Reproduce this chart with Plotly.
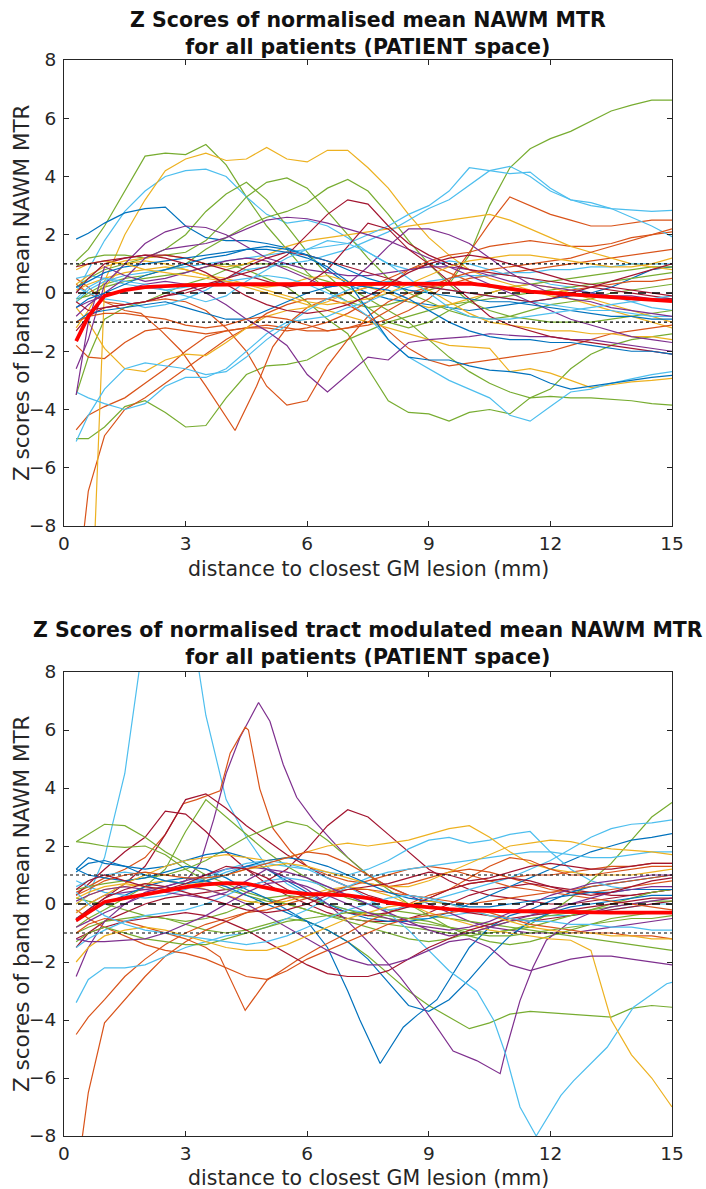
import plotly.graph_objects as go

# ---------------- data ----------------
G = [0.3, 0.6, 1.0, 1.5, 2.0, 2.5, 3.0, 3.5, 4.0, 4.5, 5.0, 5.5, 6.0, 6.5, 7.0, 7.5,
     8.0, 8.5, 9.0, 9.5, 10.0, 10.5, 11.0, 11.5, 12.0, 12.5, 13.0, 13.5, 14.0, 14.5, 15.0]

X_TICKS = [0, 3, 6, 9, 12, 15]
Y_TICKS = [-8, -6, -4, -2, 0, 2, 4, 6, 8]
REF_DOTTED = [-1, 1]
REF_DASHED = [0]

TITLE_TOP = "Z Scores of normalised mean NAWM MTR<br>for all patients (PATIENT space)"
TITLE_BOT = "Z Scores of normalised tract modulated mean NAWM MTR<br>for all patients (PATIENT space)"
X_LABEL = "distance to closest GM lesion (mm)"
Y_LABEL = "Z scores of band mean NAWM MTR"

COLORS = {"b": "#0072BD", "o": "#D95319", "y": "#EDB120", "p": "#7E2F8E",
          "g": "#77AC30", "c": "#4DBEEE", "r": "#A2142F"}

TOP_LINES = [
    ("g", G, [1.1, 1.5, 2.3, 3.5, 4.7, 4.8, 4.75, 5.1, 4.4, 3.3, 2.3, 1.5, 0.7, 0.1, -0.3, -0.5, -0.4, -0.2, 0.1, 0.3, 1.3, 3.0, 4.3, 4.95, 5.3, 5.55, 5.9, 6.25, 6.45, 6.62, 6.62]),
    ("c", G, [0.0, 0.8, 1.8, 2.8, 3.5, 4.0, 4.2, 4.25, 4.0, 3.3, 2.7, 2.4, 2.5, 2.3, 1.9, 1.4, 1.0, 0.8, 0.9, 1.1, 1.0, 0.8, 0.6, 0.5, 0.3, 0.2, 0.0, -0.1, -0.3, -0.5, -0.6]),
    ("y", G, [-1.2, -0.6, 0.4, 2.0, 3.2, 4.2, 4.6, 4.8, 4.55, 4.6, 5.0, 4.6, 4.5, 4.9, 4.9, 4.3, 3.6, 2.7, 1.9, 1.3, 0.8, 0.5, 0.3, 0.1, -0.1, -0.2, -0.4, -0.6, -0.8, -1.0, -1.2]),
    ("b", G, [1.85, 2.05, 2.4, 2.75, 2.9, 2.95, 2.3, 1.9, 1.8, 1.8, 1.7, 1.55, 1.3, 0.8, 0.3, 0.0, -0.2, -0.3, -0.4, -0.5, -0.6, -0.5, -0.4, -0.3, -0.2, -0.1, 0.0, 0.2, 0.5, 0.8, 0.9]),
    ("g", G, [0.2, 0.5, 0.8, 1.0, 1.2, 1.5, 2.0, 2.8, 3.4, 3.8, 3.2, 2.3, 1.4, 0.6, 0.0, -0.5, -1.0, -1.2, -1.0, -0.6, -0.3, 0.0, 0.2, 0.3, 0.4, 0.5, 0.6, 0.7, 0.8, 0.9, 0.9]),
    ("g", G, [0.9, 1.2, 1.3, 1.3, 1.2, 1.3, 1.4, 1.8, 2.5, 3.3, 3.8, 3.95, 3.6, 2.8, 2.0, 1.2, 0.5, 0.0, -0.3, -0.6, -0.8, -0.9, -0.8, -0.6, -0.4, -0.3, -0.2, 0.0, 0.1, 0.2, 0.3]),
    ("g", G, [-0.3, 0.0, 0.3, 0.5, 0.6, 0.8, 1.0, 1.5, 1.9, 2.3, 2.6, 2.8, 3.1, 3.6, 3.9, 3.5, 2.7, 1.8, 1.0, 0.3, -0.3, -0.6, -0.8, -0.9, -1.0, -1.0, -1.0, -0.9, -0.8, -0.7, -0.6]),
    ("g", G, [-0.2, -0.1, 0.2, 0.4, 0.5, 0.6, 0.7, 0.9, 1.0, 0.8, 0.5, 0.2, -0.3, -0.9, -1.4, -2.6, -3.7, -4.1, -4.15, -4.4, -4.1, -4.0, -4.15, -3.6, -3.55, -3.6, -3.6, -3.65, -3.7, -3.8, -3.85]),
    ("g", G, [-5.0, -5.0, -4.6, -3.9, -3.7, -4.1, -4.6, -4.55, -3.6, -2.8, -2.5, -2.45, -2.3, -1.9, -1.6, -1.3, -1.0, -0.8, -0.6, -0.4, -0.3, -0.2, -0.1, 0.0, 0.1, 0.2, 0.3, 0.4, 0.5, 0.6, 0.7]),
    ("g", G, [-3.5, -2.2, -0.9, -0.5, -0.3, 0.0, 0.3, 0.5, 0.8, 1.0, 1.0, 0.9, 0.6, 0.4, 0.2, -0.2, -0.6, -1.0, -1.6, -2.2, -2.7, -3.1, -3.4, -3.6, -3.3, -2.6, -2.1, -1.8, -1.6, -1.5, -1.4]),
    ("o", [0.3, 0.6, 1.0, 1.5, 1.9, 2.4, 2.9, 3.5, 4.22, 4.75, 5.15, 5.65, 6.0, 6.5, 7.0, 7.5, 8.0, 8.5, 9.0, 9.5, 10.0, 10.5, 11.0, 11.5, 12.0, 12.5, 13.0, 13.5, 14.0, 14.5, 15.0],
          [0.5, 0.2, -0.3, -0.6, -0.7, -1.3, -2.0, -3.2, -4.72, -3.2, -1.85, -0.9, -0.5, -0.2, 0.0, 0.2, 0.5, 0.8, 1.1, 1.3, 1.4, 1.6, 1.7, 1.8, 1.7, 1.6, 1.6, 1.7, 1.9, 2.0, 2.1]),
    ("o", G, [0.3, 0.0, -0.3, -0.4, -0.3, -0.2, -0.3, -0.6, -1.2, -2.0, -3.2, -3.85, -3.7, -2.5, -1.6, -0.8, -0.3, 0.0, 0.2, 0.3, 0.5, 0.6, 0.7, 0.8, 0.9, 1.0, 1.1, 1.2, 1.3, 1.4, 1.5]),
    ("o", G, [-4.7, -4.2, -3.9, -3.6, -3.1, -2.6, -2.0, -1.5, -1.3, -1.2, -1.2, -1.3, -1.2, -1.0, -0.7, -0.3, 0.2, 0.8, 1.0, 0.7, 0.4, 0.2, 0.1, 0.0, 0.0, 0.1, 0.2, 0.3, 0.4, 0.4, 0.5]),
    ("o", G, [-10.5, -6.8, -4.9, -4.0, -3.6, -3.1, -2.6, -2.1, -1.6, -1.2, -0.7, -0.4, -0.2, -0.2, -0.4, -0.8, -1.3, -1.9, -2.3, -2.5, -2.4, -2.3, -2.2, -2.1, -2.0, -1.8, -1.6, -1.4, -1.3, -1.2, -1.1]),
    ("o", G, [-1.8, -2.2, -2.25, -1.7, -1.3, -1.2, -1.3, -1.4, -1.3, -1.2, -1.1, -1.2, -1.3, -1.3, -1.2, -1.1, -0.9, -0.6, -0.2, 0.4, 1.4, 2.4, 3.3, 3.0, 2.7, 2.5, 2.3, 2.3, 2.4, 2.5, 2.5]),
    ("y", G, [-20.0, -14.0, 0.2, 1.0, 1.1, 1.0, 0.8, 0.6, 0.5, 0.3, 0.2, 0.3, 0.5, 0.6, 0.4, 0.2, 0.0, -0.3, -0.5, -0.4, -0.2, 0.0, 0.2, 0.3, 0.2, 0.0, -0.2, -0.4, -0.6, -0.8, -1.0]),
    ("y", G, [-0.5, -1.0, -1.9, -2.6, -2.7, -2.3, -2.1, -2.15, -1.7, -1.2, -0.8, -0.6, -0.5, -0.3, 0.0, 0.2, 0.4, 0.3, 0.1, -0.3, -0.7, -1.0, -1.1, -1.2, -1.3, -1.3, -1.4, -1.4, -1.5, -1.5, -1.6]),
    ("y", G, [0.1, 0.3, 0.5, 0.7, 0.8, 0.9, 0.8, 0.6, 0.4, 0.2, 0.0, -0.2, -0.4, -0.6, -0.8, -1.0, -1.2, -1.4, -1.6, -1.8, -1.85, -1.9, -2.7, -2.6, -2.75, -3.0, -3.25, -3.15, -3.05, -3.0, -2.93]),
    ("y", G, [0.3, 0.6, 0.9, 1.1, 1.2, 1.3, 1.2, 1.0, 0.9, 1.0, 1.3, 1.6, 1.8, 1.9, 2.0, 2.1, 2.2, 2.3, 2.4, 2.5, 2.6, 2.7, 2.5, 2.2, 1.9, 1.6, 1.4, 1.2, 1.0, 0.9, 0.8]),
    ("c", G, [-0.3, 0.1, 0.4, 0.6, 0.7, 0.8, 0.9, 1.0, 1.1, 1.2, 1.3, 1.4, 1.5, 1.6, 1.7, 2.0, 2.3, 2.7, 3.0, 3.5, 4.3, 4.2, 4.1, 4.15, 3.6, 3.2, 3.1, 2.9, 2.85, 2.8, 2.84]),
    ("c", G, [0.2, 0.0, -0.2, -0.3, -0.5, -0.4, -0.2, 0.1, 0.5, 0.8, 0.9, 1.0, 1.1, 1.3, 1.5, 1.8, 2.1, 2.5, 2.9, 3.2, 3.7, 4.2, 4.35, 4.0, 3.5, 3.2, 3.0, 2.9, 2.6, 2.3, 1.93]),
    ("c", G, [-3.4, -3.6, -3.8, -4.0, -3.8, -3.2, -2.9, -2.9, -2.6, -2.0, -1.4, -1.0, -0.9, -0.8, -0.5, -0.3, 0.0, 0.2, 0.4, 0.5, 0.6, 0.6, 0.7, 0.7, 0.8, 0.8, 0.9, 0.9, 1.0, 1.0, 1.0]),
    ("c", G, [-5.1, -4.2, -3.3, -2.6, -2.4, -2.5, -2.6, -2.8, -2.7, -2.2, -1.6, -1.1, -0.6, -0.2, 0.1, 0.3, 0.4, 0.3, 0.2, 0.1, 0.0, -0.1, -0.2, -0.3, -0.4, -0.5, -0.6, -0.6, -0.7, -0.8, -0.8]),
    ("c", G, [0.5, 0.6, 0.5, 0.3, 0.2, 0.1, 0.2, 0.3, 0.4, 0.5, 0.6, 0.5, 0.3, 0.0, -0.3, -0.8, -1.6, -2.2, -2.6, -3.0, -3.3, -3.6, -4.2, -4.4, -3.9, -3.4, -3.3, -3.1, -2.95, -2.8, -2.7]),
    ("p", G, [-0.5, -0.3, -0.1, 0.1, 0.3, 0.4, 0.3, 0.0, -0.4, -0.9, -1.3, -1.8, -2.8, -3.4, -2.8, -2.2, -2.3, -1.7, -1.6, -1.55, -1.5, -1.4, -1.45, -1.5, -1.5, -1.6, -1.6, -1.7, -1.8, -1.9, -2.0]),
    ("p", G, [-2.6, -1.6, 0.3, 1.0, 1.7, 2.1, 2.3, 2.25, 2.0, 1.6, 1.2, 1.0, 0.8, 0.7, 0.6, 0.6, 0.7, 0.8, 0.9, 0.9, 0.8, 0.6, 0.4, 0.3, 0.2, 0.1, 0.0, -0.1, -0.1, -0.2, -0.2]),
    ("p", G, [-0.8, -0.4, 0.0, 0.5, 1.2, 1.5, 1.6, 1.7, 1.9, 2.2, 2.5, 2.6, 2.55, 2.4, 2.2, 2.0, 1.8, 1.5, 1.2, 0.9, 0.6, 0.3, 0.0, -0.3, -0.6, -0.9, -1.1, -1.3, -1.5, -1.6, -1.7]),
    ("p", G, [-3.5, -1.0, 0.9, 0.6, 0.4, 0.5, 0.7, 0.9, 1.1, 1.2, 1.1, 0.8, 0.5, 0.2, 0.3, 0.9, 1.6, 2.2, 2.2, 2.0, 1.7, 1.2, 0.7, 0.3, 0.0, -0.2, -0.3, -0.5, -0.6, -0.7, -0.8]),
    ("r", G, [-0.3, -0.6, -0.5, -0.4, -0.3, -0.1, 0.1, 0.3, 0.5, 0.7, 0.9, 1.3, 2.0, 2.7, 3.2, 3.05, 2.3, 1.7, 1.3, 1.0, 0.8, 0.7, 0.6, 0.5, 0.4, 0.3, 0.2, 0.1, 0.0, -0.1, -0.2]),
    ("r", G, [0.0, 0.5, 1.0, 1.2, 1.3, 1.3, 1.2, 1.0, 0.8, 0.6, 0.4, 0.2, 0.3, 0.8, 1.6, 2.4, 2.2, 1.5, 1.0, 0.4, -0.2, -0.8, -1.1, -1.3, -1.5, -1.6, -1.7, -1.8, -1.9, -2.0, -2.1]),
    ("r", G, [-1.3, -0.8, -0.5, -0.4, -0.3, -0.1, 0.0, 0.2, 0.5, 0.9, 1.2, 1.4, 1.3, 1.1, 0.9, 0.7, 0.5, 0.3, 0.2, 0.1, 0.0, -0.1, -0.2, -0.3, -0.2, 0.0, 0.2, 0.4, 0.6, 0.8, 1.0]),
    ("b", G, [0.2, 0.4, 0.7, 0.9, 1.0, 1.1, 1.2, 1.3, 1.4, 1.5, 1.5, 1.4, 1.2, 0.9, 0.4, -0.6, -1.6, -2.2, -2.3, -2.3, -2.5, -2.65, -2.7, -2.8, -3.1, -3.3, -3.2, -3.1, -3.0, -2.9, -2.83]),
    ("b", G, [-1.0, -0.7, -0.6, -0.5, -0.4, -0.3, -0.5, -0.7, -0.9, -0.9, -0.6, -0.3, 0.0, 0.2, 0.3, 0.2, 0.1, -0.2, -0.6, -1.0, -1.3, -1.5, -1.6, -1.6, -1.7, -1.7, -1.8, -1.9, -2.0, -2.0, -2.1]),
    ("b", G, [-0.5, -0.2, 0.0, 0.3, 0.6, 0.8, 1.0, 1.2, 1.3, 1.5, 1.6, 1.5, 1.3, 1.1, 0.8, 0.5, 0.3, 0.1, 0.0, -0.1, -0.2, -0.3, -0.3, -0.4, -0.5, -0.6, -0.7, -0.8, -0.8, -0.9, -0.9]),
    ("o", G, [-1.0, -0.8, -0.7, -0.7, -0.8, -0.9, -1.1, -1.2, -1.1, -0.9, -0.8, -0.9, -1.1, -1.3, -1.2, -1.0, -0.6, -0.2, 0.2, 0.5, 0.7, 0.8, 0.9, 1.0, 1.1, 1.2, 1.4, 1.6, 1.8, 2.0, 2.2]),
    ("y", G, [0.8, 1.0, 1.1, 1.0, 0.8, 0.7, 0.6, 0.5, 0.4, 0.3, 0.1, -0.1, -0.3, -0.4, -0.3, -0.2, 0.0, 0.3, 0.6, 0.9, 1.1, 1.2, 1.3, 1.3, 1.2, 1.1, 1.0, 0.9, 0.9, 1.0, 1.2]),
    ("c", G, [-0.2, 0.2, 0.5, 0.4, 0.3, 0.1, -0.1, -0.3, -0.1, 0.4, 0.8, 1.2, 1.5, 1.8, 1.7, 1.4, 1.0, 0.5, 0.0, -0.5, -0.8, -0.9, -0.9, -0.8, -0.7, -0.6, -0.5, -0.4, -0.3, -0.2, -0.1]),
    ("r", G, [0.9, 1.0, 1.1, 1.2, 1.3, 1.2, 1.0, 0.7, 0.3, -0.1, -0.4, -0.6, -0.7, -0.6, -0.4, -0.1, 0.3, 0.7, 1.0, 1.2, 1.3, 1.2, 1.0, 0.8, 0.6, 0.4, 0.3, 0.2, 0.1, 0.0, -0.1]),
]
TOP_MEAN = [-1.65, -0.8, -0.1, 0.1, 0.2, 0.25, 0.27, 0.28, 0.3, 0.3, 0.3, 0.3, 0.3, 0.3, 0.3, 0.3,
            0.3, 0.3, 0.3, 0.32, 0.32, 0.25, 0.15, 0.05, 0.0, -0.05, -0.1, -0.15, -0.2, -0.25, -0.28]

BOT_LINES = [
    ("c", G, [0.0, 0.3, 1.6, 4.5, 9.5, 12.5, 11.0, 6.5, 3.6, 2.3, 1.3, 0.7, 0.3, 0.0, -0.2, -0.3, -0.4, -0.5, -0.5, -0.4, -0.3, -0.2, -0.2, -0.3, -0.4, -0.4, -0.3, -0.2, -0.1, 0.0, 0.0]),
    ("p", [0.3, 0.6, 1.0, 1.5, 2.0, 2.5, 3.0, 3.36, 3.69, 4.0, 4.34, 4.8, 5.08, 5.41, 5.74, 6.15, 6.6, 7.0, 7.5, 8.0, 8.5, 9.0, 9.5, 10.0, 10.5, 11.0, 11.5, 12.0, 12.5, 13.0, 13.5, 14.0, 14.5, 15.0],
          [-0.3, 0.0, 0.3, 0.4, 0.5, 0.6, 0.8, 1.4, 2.9, 4.5, 5.74, 6.95, 6.3, 4.8, 3.68, 2.9, 2.2, 1.6, 1.0, 0.6, 0.3, 0.0, -0.3, -0.6, -0.8, -0.9, -1.0, -1.0, -1.0, -0.9, -0.8, -0.7, -0.6, -0.5]),
    ("o", [0.3, 0.6, 1.0, 1.5, 2.0, 2.5, 2.94, 3.27, 3.85, 4.1, 4.47, 4.55, 4.83, 5.16, 5.6, 6.0, 6.5, 7.0, 7.5, 8.0, 8.5, 9.0, 9.5, 10.0, 10.5, 11.0, 11.5, 12.0, 12.5, 13.0, 13.5, 14.0, 14.5, 15.0],
          [0.4, 0.6, 0.9, 1.2, 1.6, 2.4, 3.46, 3.6, 3.9, 5.2, 6.1, 6.0, 3.97, 2.6, 1.8, 1.3, 1.0, 0.8, 0.7, 0.6, 0.7, 0.9, 1.1, 1.2, 1.1, 0.9, 0.7, 0.5, 0.4, 0.4, 0.5, 0.6, 0.7, 0.8]),
    ("r", G, [-0.5, -0.2, 0.2, 0.7, 1.3, 2.4, 3.6, 3.8, 3.3, 2.7, 2.2, 1.7, 1.3, 0.9, 0.6, 0.3, 0.1, 0.0, -0.1, -0.2, -0.3, -0.4, -0.5, -0.6, -0.5, -0.4, -0.3, -0.2, -0.1, 0.0, 0.1]),
    ("r", G, [0.3, 0.7, 1.2, 1.8, 2.3, 3.2, 3.1, 2.5, 1.8, 1.2, 0.7, 0.3, 0.0, -0.3, -0.5, -0.6, -0.6, -0.5, -0.3, 0.0, 0.3, 0.5, 0.6, 0.7, 0.6, 0.5, 0.4, 0.3, 0.3, 0.4, 0.5]),
    ("r", G, [-1.5, -1.0, -0.6, -0.3, 0.0, 0.2, 0.3, 0.4, 0.5, 0.6, 0.8, 1.2, 1.9, 2.7, 3.25, 3.0, 2.4, 1.8, 1.2, 0.8, 0.5, 0.3, 0.2, 0.1, 0.0, 0.0, 0.1, 0.2, 0.3, 0.4, 0.5]),
    ("g", G, [2.15, 2.4, 2.75, 2.7, 2.3, 1.8, 1.4, 1.0, 0.7, 0.4, 0.2, 0.0, -0.2, -0.4, -0.5, -0.6, -0.7, -0.8, -0.9, -1.0, -1.1, -1.0, -0.9, -0.8, -0.6, -0.4, -0.2, 0.0, 0.2, 0.4, 0.5]),
    ("g", G, [2.15, 2.1, 2.0, 1.95, 2.0, 1.7, 1.2, 0.8, 0.5, 0.3, 0.1, 0.0, -0.2, -0.4, -0.6, -0.8, -1.0, -1.2, -1.3, -1.2, -1.0, -0.8, -0.6, -0.5, -0.4, -0.3, -0.2, -0.1, 0.0, 0.1, 0.1]),
    ("g", G, [-0.8, -0.5, -0.2, 0.2, 0.6, 1.2, 2.5, 3.6, 3.0, 2.4, 1.8, 1.3, 0.9, 0.5, 0.2, 0.0, -0.2, -0.3, -0.4, -0.5, -0.6, -0.7, -0.8, -0.9, -1.0, -1.1, -1.2, -1.3, -1.4, -1.5, -1.6]),
    ("g", G, [0.5, 0.6, 0.7, 0.8, 0.9, 1.0, 1.2, 1.5, 1.9, 2.3, 2.6, 2.85, 2.7, 2.2, 1.6, 1.0, 0.5, 0.0, -0.4, -0.8, -1.1, -1.3, -1.4, -1.3, -1.1, -0.9, -0.7, -0.5, -0.4, -0.3, -0.3]),
    ("g", G, [0.2, 0.1, 0.0, -0.2, -0.4, -0.5, -0.6, -0.5, -0.3, 0.0, 0.2, 0.3, 0.2, 0.0, -0.2, -0.4, -0.5, -0.6, -0.7, -0.8, -0.9, -1.0, -0.9, -0.7, -0.3, 0.2, 0.8, 1.4, 2.2, 3.0, 3.5]),
    ("g", G, [-1.0, -0.8, -0.6, -0.5, -0.4, -0.5, -0.7, -0.9, -1.0, -0.9, -0.7, -0.5, -0.6, -0.9, -1.3, -1.8, -2.4, -3.0, -3.5, -3.9, -4.3, -4.1, -3.8, -3.7, -3.75, -3.8, -3.85, -3.9, -3.6, -3.5, -3.56]),
    ("b", [0.3, 0.6, 1.0, 1.5, 2.0, 2.5, 3.0, 3.5, 4.0, 4.5, 5.0, 5.5, 6.0, 6.5, 7.0, 7.3, 7.8, 8.37, 8.7, 9.2, 9.6, 10.0, 10.5, 11.0, 11.5, 12.0, 12.5, 13.0, 13.5, 14.0, 14.5, 15.0],
          [1.2, 1.0, 0.9, 0.8, 0.9, 1.1, 1.3, 1.2, 0.9, 0.5, 0.2, -0.2, -0.6, -1.5, -3.0, -4.0, -5.5, -4.25, -3.85, -3.3, -2.4, -1.5, -0.8, -0.4, -0.2, 0.1, 0.4, 0.6, 0.7, 0.8, 0.9, 1.0]),
    ("b", G, [1.2, 1.6, 1.4, 1.3, 1.2, 1.3, 1.5, 1.7, 1.8, 1.6, 1.2, 0.8, 0.4, 0.0, -0.3, -0.5, -0.6, -0.6, -0.5, -0.3, 0.0, 0.3, 0.6, 0.9, 1.2, 1.5, 1.8, 2.0, 2.2, 2.3, 2.43]),
    ("b", G, [-0.5, -0.3, 0.0, 0.3, 0.6, 0.8, 0.9, 0.8, 0.6, 0.3, 0.0, -0.3, -0.6, -0.9, -1.3, -1.9, -2.7, -3.5, -3.7, -3.3, -2.6, -1.8, -1.1, -0.6, -0.3, -0.1, 0.0, 0.1, 0.2, 0.3, 0.3]),
    ("p", [0.3, 0.6, 1.0, 1.5, 2.0, 2.5, 3.0, 3.5, 4.0, 4.5, 5.0, 5.5, 6.0, 6.5, 7.0, 7.5, 8.3, 8.86, 9.6, 10.18, 10.76, 10.9, 11.25, 11.57, 11.9, 12.5, 13.0, 13.5, 14.0, 14.5, 15.0],
          [-2.5, -1.5, -0.6, 0.0, 0.4, 0.6, 0.8, 1.0, 1.2, 1.3, 1.2, 0.9, 0.5, 0.0, -0.6, -1.3, -2.53, -3.56, -5.07, -5.4, -5.85, -5.05, -3.33, -2.18, -1.25, -0.6, -0.3, -0.1, 0.0, 0.1, 0.2]),
    ("c", [0.3, 0.6, 1.0, 1.5, 2.0, 2.5, 3.0, 3.5, 4.0, 4.5, 5.0, 5.5, 6.0, 6.5, 7.0, 7.5, 8.0, 8.5, 9.0, 9.5, 10.18, 10.6, 10.9, 11.25, 11.65, 12.26, 12.57, 13.4, 14.05, 14.87, 15.0],
          [0.6, 0.8, 1.0, 1.1, 1.0, 0.8, 0.7, 0.9, 1.2, 1.4, 1.5, 1.4, 1.2, 0.9, 0.6, 0.2, -0.3, -0.9, -1.6, -2.3, -3.0, -4.0, -5.2, -7.0, -8.0, -6.6, -6.1, -4.94, -3.56, -2.75, -2.7]),
    ("y", G, [0.0, 0.3, 0.5, 0.6, 0.7, 0.8, 0.7, 0.5, 0.3, 0.1, 0.0, 0.1, 0.3, 0.5, 0.6, 0.5, 0.3, 0.0, -0.3, -0.5, -0.7, -0.9, -1.0, -1.1, -1.2, -1.25, -1.6, -4.0, -5.2, -6.0, -7.0]),
    ("o", G, [-9.6, -6.5, -4.1, -3.3, -2.5, -1.8, -1.3, -0.9, -0.6, -0.3, 0.0, 0.2, 0.3, 0.4, 0.5, 0.5, 0.4, 0.3, 0.2, 0.1, 0.0, 0.1, 0.2, 0.3, 0.4, 0.5, 0.6, 0.7, 0.8, 0.9, 1.0]),
    ("o", G, [-4.5, -3.9, -3.3, -2.5, -1.9, -1.4, -1.0, -0.7, -0.5, -0.3, -0.2, 0.0, 0.2, 0.4, 0.6, 0.8, 1.0, 1.2, 1.3, 1.2, 1.0, 0.8, 0.6, 0.5, 0.4, 0.3, 0.2, 0.1, 0.0, -0.1, -0.2]),
    ("c", G, [-3.4, -2.6, -2.2, -2.2, -2.1, -1.8, -1.5, -1.3, -1.1, -1.0, -0.8, -0.5, -0.2, 0.2, 0.6, 0.9, 1.1, 1.2, 1.3, 1.4, 1.5, 1.6, 1.7, 1.8, 1.8, 1.7, 1.6, 1.6, 1.7, 1.8, 1.8]),
    ("o", [0.3, 0.6, 1.0, 1.5, 2.0, 2.5, 3.0, 3.5, 3.85, 4.47, 5.0, 5.74, 6.3, 7.0, 7.5, 8.0, 8.5, 9.0, 9.5, 10.0, 10.5, 11.0, 11.5, 12.0, 12.5, 13.0, 13.5, 14.0, 14.5, 15.0],
          [-1.0, -0.7, -0.5, -0.6, -0.8, -1.0, -1.2, -1.5, -1.83, -3.67, -2.64, -1.95, -1.5, -1.0, -0.6, -0.3, 0.0, 0.3, 0.5, 0.7, 0.8, 0.9, 1.0, 1.0, 1.1, 1.2, 1.3, 1.3, 1.4, 1.4]),
    ("o", G, [-0.2, -0.5, -0.8, -1.1, -1.4, -1.6, -1.7, -1.9, -2.2, -2.5, -2.6, -2.3, -1.9, -1.6, -1.3, -1.0, -0.7, -0.5, -0.4, -0.3, -0.2, -0.3, -0.5, -0.7, -0.8, -0.9, -1.0, -1.0, -1.1, -1.1, -1.2]),
    ("r", G, [-1.2, -1.0, -0.8, -0.6, -0.5, -0.4, -0.3, -0.4, -0.6, -0.9, -1.3, -1.7, -2.1, -2.4, -2.5, -2.5, -2.3, -1.9, -1.5, -1.2, -0.9, -0.7, -0.5, -0.4, -0.3, -0.2, -0.1, 0.0, 0.1, 0.2, 0.2]),
    ("p", G, [-0.8, -0.6, -0.3, 0.0, 0.3, 0.5, 0.6, 0.5, 0.3, 0.0, -0.4, -0.8, -1.2, -1.6, -1.9, -2.1, -2.1, -1.9, -1.6, -1.3, -1.2, -1.5, -2.1, -2.3, -2.1, -1.9, -1.8, -1.8, -1.9, -2.0, -2.1]),
    ("c", G, [0.8, 0.6, 0.4, 0.3, 0.2, 0.3, 0.5, 0.8, 1.1, 1.3, 1.4, 1.3, 1.2, 1.1, 1.0, 1.2, 1.5, 1.9, 2.2, 2.3, 2.1, 2.2, 2.4, 2.5, 1.8, 1.2, 0.8, 0.6, 0.5, 0.5, 0.5]),
    ("y", G, [-0.3, 0.0, 0.3, 0.7, 1.0, 1.3, 1.5, 1.6, 1.7, 1.6, 1.5, 1.6, 1.8, 2.0, 2.1, 2.0, 2.1, 2.2, 2.4, 2.6, 2.7, 2.3, 1.8, 1.4, 1.2, 1.1, 1.0, 1.0, 1.0, 1.1, 1.2]),
    ("y", G, [0.2, 0.4, 0.6, 0.7, 0.6, 0.5, 0.6, 0.8, 1.0, 1.2, 1.3, 1.4, 1.3, 1.1, 0.9, 0.7, 0.6, 0.6, 0.8, 1.1, 1.4, 1.7, 2.0, 2.1, 2.2, 2.15, 2.0, 1.9, 1.85, 1.8, 1.7]),
    ("c", G, [-1.5, -1.2, -0.9, -0.6, -0.4, -0.3, -0.2, 0.0, 0.3, 0.6, 0.8, 0.9, 0.8, 0.6, 0.3, 0.0, -0.2, -0.1, 0.1, 0.3, 0.5, 0.7, 0.9, 1.2, 1.5, 1.9, 2.3, 2.6, 2.75, 2.8, 2.9]),
    ("b", G, [1.1, 1.4, 1.5, 1.3, 1.0, 0.8, 0.7, 0.8, 1.0, 1.3, 1.5, 1.6, 1.5, 1.3, 1.0, 0.7, 0.4, 0.2, 0.1, 0.0, -0.1, -0.1, 0.0, 0.1, 0.2, 0.3, 0.4, 0.4, 0.5, 0.5, 0.5]),
    ("o", G, [0.3, 0.5, 0.8, 1.0, 1.1, 1.0, 0.9, 0.9, 1.0, 1.2, 1.4, 1.6, 1.8, 1.7, 1.4, 1.0, 0.6, 0.3, 0.2, 0.5, 0.9, 1.3, 1.6, 1.5, 1.2, 1.0, 1.0, 1.1, 1.2, 1.3, 1.3]),
    ("p", G, [0.1, 0.3, 0.5, 0.6, 0.5, 0.4, 0.3, 0.2, 0.4, 0.8, 1.2, 1.1, 0.9, 0.6, 0.3, 0.0, -0.3, -0.6, -0.9, -1.1, -1.0, -0.8, -0.6, -0.4, -0.2, 0.0, 0.2, 0.4, 0.5, 0.6, 0.6]),
    ("r", G, [0.5, 0.8, 1.0, 0.8, 0.6, 0.5, 0.7, 1.0, 1.3, 1.2, 0.9, 0.5, 0.2, -0.1, -0.3, -0.4, -0.3, -0.1, 0.2, 0.5, 0.7, 0.8, 0.9, 0.8, 0.6, 0.4, 0.3, 0.4, 0.6, 0.8, 0.9]),
    ("g", G, [-1.3, -1.0, -0.8, -1.0, -1.2, -1.3, -1.4, -1.4, -1.2, -1.0, -0.8, -0.6, -0.5, -0.4, -0.3, -0.3, -0.4, -0.5, -0.6, -0.8, -1.0, -1.1, -1.1, -1.0, -0.9, -0.8, -0.7, -0.6, -0.5, -0.5, -0.4]),
    ("y", G, [-2.0, -1.5, -1.1, -0.9, -0.8, -0.9, -1.1, -1.3, -1.5, -1.6, -1.6, -1.4, -1.1, -0.8, -0.5, -0.3, -0.1, 0.0, 0.1, 0.0, -0.2, -0.4, -0.6, -0.8, -0.9, -1.0, -1.0, -1.1, -1.1, -1.2, -1.2]),
    ("c", G, [0.4, 0.0, -0.4, -0.7, -0.9, -1.0, -1.1, -1.2, -1.3, -1.4, -1.3, -1.1, -0.8, -0.5, -0.2, 0.0, 0.2, 0.3, 0.2, 0.0, -0.2, -0.4, -0.5, -0.6, -0.6, -0.7, -0.7, -0.8, -0.8, -0.9, -0.9]),
    ("p", G, [-1.2, -1.3, -1.3, -1.25, -1.2, -1.0, -0.7, -0.4, 0.0, 0.4, 0.7, 0.8, 0.6, 0.3, 0.0, -0.3, -0.5, -0.7, -0.8, -0.9, -0.8, -0.6, -0.3, 0.0, 0.3, 0.5, 0.7, 0.8, 0.9, 1.0, 1.0]),
    ("r", G, [-0.6, -0.2, 0.2, 0.5, 0.7, 0.6, 0.4, 0.2, 0.0, -0.2, -0.3, -0.2, 0.0, 0.3, 0.5, 0.6, 0.7, 0.9, 1.1, 1.0, 0.8, 0.9, 1.1, 1.3, 1.4, 1.3, 1.2, 1.2, 1.3, 1.4, 1.4]),
]
BOT_MEAN = [-0.57, -0.3, 0.07, 0.2, 0.33, 0.45, 0.58, 0.68, 0.72, 0.7, 0.55, 0.42, 0.35, 0.32, 0.3, 0.2,
            0.05, -0.05, -0.12, -0.18, -0.22, -0.25, -0.25, -0.25, -0.27, -0.28, -0.28, -0.3, -0.3, -0.3, -0.3]

# ---------------- figure ----------------
W, H = 706, 1189
ML, MR, MT, MB = 64, 34, 60, 53
PH = H - MT - MB
TOP_DOMAIN = [(1136 - 526) / PH, 1.0]
BOT_DOMAIN = [0.0, (1136 - 672) / PH]

fig = go.Figure()
AXC = "#262626"


def add_panel(lines, mean, xa, ya):
    for ck, xs, ys in lines:
        fig.add_trace(go.Scatter(x=xs, y=ys, mode="lines", xaxis=xa, yaxis=ya,
                                 line=dict(color=COLORS[ck], width=1.2), showlegend=False,
                                 hoverinfo="skip"))
    for lv in REF_DOTTED:
        fig.add_trace(go.Scatter(x=[0, 15], y=[lv, lv], mode="lines", xaxis=xa, yaxis=ya,
                                 line=dict(color="#000000", width=1.2, dash="dot"),
                                 showlegend=False, hoverinfo="skip"))
    for lv in REF_DASHED:
        fig.add_trace(go.Scatter(x=[0, 15], y=[lv, lv], mode="lines", xaxis=xa, yaxis=ya,
                                 line=dict(color="#000000", width=1.3, dash="8px,6px"),
                                 showlegend=False, hoverinfo="skip"))
    fig.add_trace(go.Scatter(x=G, y=mean, mode="lines", xaxis=xa, yaxis=ya,
                             line=dict(color="#FF0000", width=3.8), showlegend=False,
                             hoverinfo="skip"))


add_panel(TOP_LINES, TOP_MEAN, "x", "y")
add_panel(BOT_LINES, BOT_MEAN, "x2", "y2")

tickfont = dict(family="DejaVu Sans", size=18.5, color=AXC)
xcommon = dict(range=[0, 15], tickvals=X_TICKS, ticks="inside", ticklen=5, tickwidth=1,
               tickcolor=AXC, showline=True, linecolor=AXC, linewidth=1, mirror="allticks",
               showgrid=False, zeroline=False, tickfont=tickfont, ticklabelstandoff=1)
ycommon = dict(range=[-8, 8], tickvals=Y_TICKS, ticks="inside", ticklen=5, tickwidth=1,
               tickcolor=AXC, showline=True, linecolor=AXC, linewidth=1, mirror="allticks",
               showgrid=False, zeroline=False, tickfont=tickfont, ticklabelstandoff=3)

fig.update_layout(
    width=W, height=H,
    margin=dict(l=ML, r=MR, t=MT, b=MB, autoexpand=False),
    paper_bgcolor="white", plot_bgcolor="white",
    xaxis=dict(domain=[0, 1], anchor="y", **xcommon),
    yaxis=dict(domain=TOP_DOMAIN, anchor="x", **ycommon),
    xaxis2=dict(domain=[0, 1], anchor="y2", **xcommon),
    yaxis2=dict(domain=BOT_DOMAIN, anchor="x2", **ycommon),
)


def py(Y):
    return (1136 - Y) / PH


def px(X):
    return (X - ML) / (W - ML - MR)


ann = []
titlefont = dict(family="DejaVu Sans", size=20.5, color="#111111")
xlabfont = dict(family="DejaVu Sans", size=20.5, color=AXC)
ylabfont = dict(family="DejaVu Sans", size=21.5, color=AXC)
ann.append(dict(text="<b>" + TITLE_TOP.replace("<br>", "</b><br><b>") + "</b>", x=0.5, y=py(33),
                xref="paper", yref="paper", xanchor="center", yanchor="middle",
                showarrow=False, font=titlefont))
ann.append(dict(text="<b>" + TITLE_BOT.replace("<br>", "</b><br><b>") + "</b>", x=0.5, y=py(643),
                xref="paper", yref="paper", xanchor="center", yanchor="middle",
                showarrow=False, font=titlefont))
for yc in (569, 1178):
    ann.append(dict(text=X_LABEL, x=0.5, y=py(yc), xref="paper", yref="paper",
                    xanchor="center", yanchor="middle", showarrow=False, font=xlabfont))
for yc in ((60 + 526) / 2, (672 + 1136) / 2):
    ann.append(dict(text=Y_LABEL, x=px(21), y=py(yc), xref="paper", yref="paper",
                    xanchor="center", yanchor="middle", textangle=-90, showarrow=False,
                    font=ylabfont))
fig.update_layout(annotations=ann)

fig.write_html("out.html")
